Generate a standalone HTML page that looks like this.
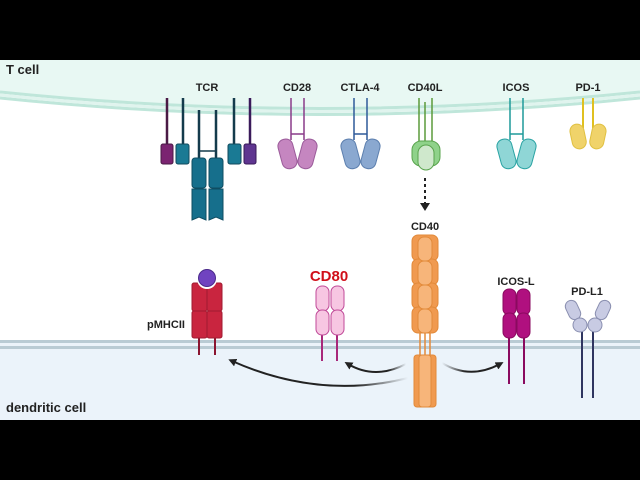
<!DOCTYPE html>
<html><head><style>body{margin:0;background:#000}svg{display:block}text{font-family:"Liberation Sans",sans-serif;font-weight:bold}</style></head><body>
<svg width="640" height="480" viewBox="0 0 640 480" xmlns="http://www.w3.org/2000/svg">
<defs>
<marker id="ah" markerWidth="8" markerHeight="8" refX="4" refY="4" orient="auto" markerUnits="userSpaceOnUse"><path d="M0,0 L8,4 L0,8 Z" fill="#222"/></marker>
<linearGradient id="fadeL" x1="1" y1="0" x2="0" y2="0"><stop offset="0" stop-color="#222" stop-opacity="0"/><stop offset="0.3" stop-color="#222"/></linearGradient>
<linearGradient id="fadeR" x1="0" y1="0" x2="1" y2="0"><stop offset="0" stop-color="#222" stop-opacity="0"/><stop offset="0.4" stop-color="#222"/></linearGradient>
</defs>
<rect x="0" y="60" width="640" height="360" fill="#fff"/>
<!-- T cell -->
<path d="M0,60 H640 V92 Q320,125 0,92 Z" fill="#e8f8f3"/>
<path d="M0,92 Q320,125 640,92" fill="none" stroke="#bfe6da" stroke-width="3"/>
<path d="M0,98 Q320,131 640,98" fill="none" stroke="#bfe6da" stroke-width="3"/>
<path d="M0,95 Q320,128 640,95" fill="none" stroke="#e0f4ee" stroke-width="3"/>
<!-- dendritic -->
<rect x="0" y="340" width="640" height="80" fill="#ebf3fa"/>
<rect x="0" y="340" width="640" height="3" fill="#b9cbd4"/>
<rect x="0" y="346" width="640" height="3" fill="#b9cbd4"/>
<text x="6" y="74" font-size="13" fill="#222">T cell</text>
<text x="6" y="412" font-size="13" fill="#222">dendritic cell</text>
<g font-size="11" fill="#222" text-anchor="middle">
<text x="207" y="91">TCR</text><text x="297" y="91">CD28</text><text x="360" y="91">CTLA-4</text><text x="425" y="91">CD40L</text><text x="516" y="91">ICOS</text><text x="588" y="91">PD-1</text>
<text x="425" y="230">CD40</text><text x="516" y="285">ICOS-L</text><text x="587" y="295">PD-L1</text>
</g>
<text x="166" y="328" font-size="11" fill="#222" text-anchor="middle">pMHCII</text>
<text x="329" y="281" font-size="15" fill="#d0101a" text-anchor="middle">CD80</text>
<!-- TCR -->
<g stroke-width="2.5">
<line x1="167" y1="98" x2="167" y2="146" stroke="#4a1a45"/>
<line x1="183" y1="98" x2="183" y2="146" stroke="#143b4c"/>
<line x1="199" y1="110" x2="199" y2="160" stroke="#143b4c"/>
<line x1="216" y1="110" x2="216" y2="160" stroke="#143b4c"/>
<line x1="234" y1="98" x2="234" y2="146" stroke="#143b4c"/>
<line x1="250" y1="98" x2="250" y2="146" stroke="#3a1a5a"/>
<line x1="199" y1="151" x2="216" y2="151" stroke="#143b4c" stroke-width="1.5"/>
</g>
<rect x="161" y="144" width="12" height="20" rx="2" fill="#7b2471" stroke="#4a1a45"/>
<rect x="176" y="144" width="13" height="20" rx="2" fill="#1a7a94" stroke="#114a5c"/>
<rect x="228" y="144" width="13" height="20" rx="2" fill="#1a7a94" stroke="#114a5c"/>
<rect x="244" y="144" width="12" height="20" rx="2" fill="#5f3590" stroke="#3a1a5a"/>
<g fill="#166f8c" stroke="#0f4d62">
<rect x="192" y="158" width="14" height="30" rx="3"/><rect x="209" y="158" width="14" height="30" rx="3"/>
<path d="M192,189 h14 v31 l-7,-3 l-7,3 z"/><path d="M209,189 h14 v31 l-7,-3 l-7,3 z"/>
</g>
<!-- CD28 -->
<g stroke="#8a3c8a" stroke-width="1.5" fill="none"><path d="M291,98 V140 M304,98 V140 M291,134 H304"/></g>
<g fill="#c586c0" stroke="#9b5b9a"><rect x="280" y="139" width="15" height="30" rx="7" transform="rotate(-15 287 154)"/><rect x="300" y="139" width="15" height="30" rx="7" transform="rotate(15 308 154)"/></g>
<!-- CTLA-4 -->
<g stroke="#2f5a9a" stroke-width="1.5" fill="none"><path d="M354,98 V140 M367,98 V140 M354,134 H367"/></g>
<g fill="#8aa8d0" stroke="#5c7fae"><rect x="343" y="139" width="15" height="30" rx="7" transform="rotate(-15 350 154)"/><rect x="363" y="139" width="15" height="30" rx="7" transform="rotate(15 371 154)"/></g>
<!-- CD40L -->
<g stroke="#5a9a3a" stroke-width="1.5"><line x1="419" y1="98" x2="419" y2="142"/><line x1="432" y1="98" x2="432" y2="142"/><line x1="425" y1="102" x2="425" y2="145"/></g>
<g stroke="#5aa44e"><rect x="412" y="141" width="28" height="25" rx="9" fill="#8fd28a"/><rect x="418" y="145" width="16" height="25" rx="8" fill="#cfe8cc"/></g>
<line x1="425" y1="178" x2="425" y2="204" stroke="#222" stroke-width="2" stroke-dasharray="3,3"/>
<path d="M420,203 L430,203 L425,211 Z" fill="#222"/>
<!-- ICOS -->
<g stroke="#1f9a9a" stroke-width="1.5" fill="none"><path d="M510,98 V140 M523,98 V140 M510,134 H523"/></g>
<g fill="#8fd6d6" stroke="#2aa3a3"><rect x="499" y="139" width="15" height="30" rx="7" transform="rotate(-15 506 154)"/><rect x="519" y="139" width="15" height="30" rx="7" transform="rotate(15 527 154)"/></g>
<!-- PD-1 -->
<g stroke="#e0c020" stroke-width="2"><line x1="583" y1="98" x2="583" y2="128"/><line x1="593" y1="98" x2="593" y2="128"/></g>
<g fill="#f0d36a" stroke="#e0c040"><rect x="571" y="124" width="14" height="25" rx="7" transform="rotate(-12 578 136)"/><rect x="591" y="124" width="14" height="25" rx="7" transform="rotate(12 598 136)"/></g>
<!-- CD40 -->
<g stroke="#e28a3a" stroke-width="1.5"><line x1="420" y1="330" x2="420" y2="358"/><line x1="425" y1="330" x2="425" y2="358"/><line x1="430" y1="330" x2="430" y2="358"/></g>
<g fill="#f09a50" stroke="#e28a3a">
<rect x="412" y="235" width="26" height="26" rx="6"/><rect x="412" y="259" width="26" height="26" rx="6"/><rect x="412" y="283" width="26" height="26" rx="6"/><rect x="412" y="307" width="26" height="26" rx="6"/>
<rect x="418" y="237" width="14" height="24" rx="6" fill="#f7b57a"/><rect x="418" y="261" width="14" height="24" rx="6" fill="#f7b57a"/><rect x="418" y="285" width="14" height="24" rx="6" fill="#f7b57a"/><rect x="418" y="309" width="14" height="24" rx="6" fill="#f7b57a"/>
<rect x="414" y="355" width="22" height="52" rx="3"/><rect x="419" y="355" width="12" height="52" rx="3" fill="#f7b57a"/>
</g>
<!-- pMHCII -->
<g stroke="#8a1530" stroke-width="2"><line x1="199" y1="330" x2="199" y2="355"/><line x1="215" y1="330" x2="215" y2="355"/></g>
<g fill="#c9253f" stroke="#a01a30"><rect x="192" y="283" width="15" height="28" rx="2"/><rect x="207" y="283" width="15" height="28" rx="2"/><rect x="192" y="311" width="15" height="27" rx="2"/><rect x="207" y="311" width="15" height="27" rx="2"/></g>
<circle cx="207" cy="279" r="10" fill="#fff"/><circle cx="207" cy="278" r="8.5" fill="#7043c0" stroke="#4a2a8a"/>
<!-- CD80 -->
<g stroke="#a8287a" stroke-width="2"><line x1="322" y1="330" x2="322" y2="361"/><line x1="337" y1="330" x2="337" y2="361"/></g>
<g fill="#f7c6e2" stroke="#c04a98"><rect x="316" y="286" width="13" height="25" rx="6"/><rect x="331" y="286" width="13" height="25" rx="6"/><rect x="316" y="310" width="13" height="25" rx="6"/><rect x="331" y="310" width="13" height="25" rx="6"/></g>
<!-- ICOS-L -->
<g stroke="#8a0a5f" stroke-width="2"><line x1="509" y1="330" x2="509" y2="384"/><line x1="524" y1="330" x2="524" y2="384"/></g>
<g fill="#b0107f" stroke="#8a0a5f"><rect x="503" y="289" width="13" height="26" rx="6"/><rect x="517" y="289" width="13" height="26" rx="6"/><rect x="503" y="313" width="13" height="25" rx="6"/><rect x="517" y="313" width="13" height="25" rx="6"/></g>
<!-- PD-L1 -->
<g stroke="#2f3560" stroke-width="2"><line x1="582" y1="325" x2="582" y2="398"/><line x1="593" y1="325" x2="593" y2="398"/></g>
<g fill="#c8cbe3" stroke="#8a8fb0"><rect x="567" y="300" width="12" height="20" rx="6" transform="rotate(-25 573 310)"/><rect x="597" y="300" width="12" height="20" rx="6" transform="rotate(25 603 310)"/><circle cx="580" cy="325" r="7"/><circle cx="595" cy="325" r="7"/></g>
<!-- arrows -->
<path d="M408,378 Q320,400 232,361" fill="none" stroke="url(#fadeL)" stroke-width="2" marker-end="url(#ah)"/>
<path d="M406,364 Q375,380 348,364" fill="none" stroke="url(#fadeL)" stroke-width="2" marker-end="url(#ah)"/>
<path d="M442,363 Q470,380 500,364" fill="none" stroke="url(#fadeR)" stroke-width="2" marker-end="url(#ah)"/>
</svg>
</body></html>
